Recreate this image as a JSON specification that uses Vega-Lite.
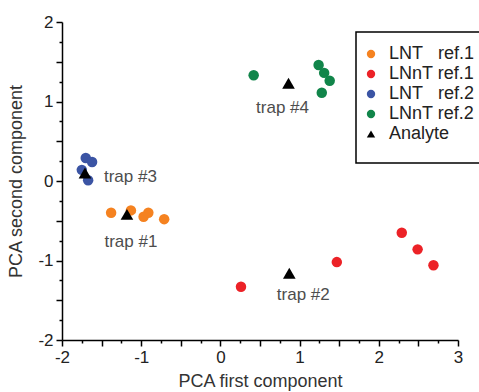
{
  "$schema": "https://vega.github.io/schema/vega-lite/v6.json",
  "width": 396,
  "height": 318,
  "autosize": {"type": "none"},
  "padding": {"left": 62, "top": 22, "right": 21, "bottom": 52},
  "background": "white",
  "config": {
    "view": {"stroke": null},
    "font": "Liberation Sans",
    "legend": {"strokeWidth": 1.5},
    "axis": {
      "domainColor": "black",
      "domainWidth": 1.5,
      "tickColor": "black",
      "tickWidth": 1.5,
      "grid": false,
      "labelFont": "Liberation Sans",
      "labelFontSize": 17,
      "labelColor": "#222",
      "titleFont": "Liberation Sans",
      "titleFontSize": 18,
      "titleFontWeight": "normal",
      "titleColor": "#333",
      "labelFlush": false,
      "labelOverlap": false
    }
  },
  "data": {
    "values": [
      {"series": "LNT ref.1", "x": -1.38, "y": -0.40},
      {"series": "LNT ref.1", "x": -1.13, "y": -0.37},
      {"series": "LNT ref.1", "x": -0.97, "y": -0.45},
      {"series": "LNT ref.1", "x": -0.91, "y": -0.40},
      {"series": "LNT ref.1", "x": -0.71, "y": -0.48},
      {"series": "LNnT ref.1", "x": 0.26, "y": -1.33},
      {"series": "LNnT ref.1", "x": 1.47, "y": -1.02},
      {"series": "LNnT ref.1", "x": 2.29, "y": -0.65},
      {"series": "LNnT ref.1", "x": 2.49, "y": -0.86},
      {"series": "LNnT ref.1", "x": 2.69, "y": -1.06},
      {"series": "LNT ref.2", "x": -1.70, "y": 0.29},
      {"series": "LNT ref.2", "x": -1.62, "y": 0.24},
      {"series": "LNT ref.2", "x": -1.75, "y": 0.14},
      {"series": "LNT ref.2", "x": -1.67, "y": 0.01},
      {"series": "LNnT ref.2", "x": 0.42, "y": 1.33},
      {"series": "LNnT ref.2", "x": 1.24, "y": 1.46},
      {"series": "LNnT ref.2", "x": 1.31, "y": 1.36},
      {"series": "LNnT ref.2", "x": 1.38, "y": 1.26},
      {"series": "LNnT ref.2", "x": 1.28, "y": 1.11},
      {"series": "Analyte", "x": -1.18, "y": -0.42, "label": "trap #1"},
      {"series": "Analyte", "x": 0.87, "y": -1.16, "label": "trap #2"},
      {"series": "Analyte", "x": -1.71, "y": 0.10, "label": "trap #3"},
      {"series": "Analyte", "x": 0.86, "y": 1.23, "label": "trap #4"}
    ]
  },
  "encoding": {
    "x": {
      "field": "x", "type": "quantitative",
      "scale": {"domain": [-2, 3], "nice": false, "zero": false},
      "axis": {
        "title": "PCA first component",
        "values": [-2,-1.75,-1.5,-1.25,-1,-0.75,-0.5,-0.25,0,0.25,0.5,0.75,1,1.25,1.5,1.75,2,2.25,2.5,2.75,3],
        "labelExpr": "datum.value % 1 === 0 ? toString(datum.value) : ''",
        "tickSize": {"condition": {"test": "datum.value % 0.5 === 0", "value": 6}, "value": 3},
        "labelPadding": 3,
        "titlePadding": 7
      }
    },
    "y": {
      "field": "y", "type": "quantitative",
      "scale": {"domain": [-2, 2], "nice": false, "zero": false},
      "axis": {
        "title": "PCA second component",
        "values": [-2,-1.75,-1.5,-1.25,-1,-0.75,-0.5,-0.25,0,0.25,0.5,0.75,1,1.25,1.5,1.75,2],
        "labelExpr": "datum.value % 1 === 0 ? toString(datum.value) : ''",
        "tickSize": {"condition": {"test": "datum.value % 0.5 === 0", "value": 6}, "value": 3},
        "labelPadding": 3,
        "titlePadding": 12
      }
    }
  },
  "layer": [
    {
      "transform": [{"filter": "datum.series !== 'Analyte'"}],
      "mark": {"type": "point", "filled": true, "opacity": 1, "size": 110, "strokeWidth": 0},
      "encoding": {
        "color": {
          "field": "series", "type": "nominal",
          "scale": {
            "domain": ["LNT ref.1", "LNnT ref.1", "LNT ref.2", "LNnT ref.2", "Analyte"],
            "range": ["#F58220", "#EC2227", "#3B54A4", "#11854A", "#000000"]
          },
          "legend": {
            "title": "\u00a0",
            "titleOrient": "bottom",
            "titleFontSize": 4,
            "titlePadding": 3,
            "orient": "none",
            "legendX": 294,
            "legendY": 10,
            "strokeColor": "black",
            "fillColor": "white",
            "padding": 13,
            "rowPadding": 2,
            "symbolSize": 70,
            "symbolOffset": -7,
            "symbolStrokeWidth": 0,
            "labelFont": "Liberation Sans",
            "labelFontSize": 18,
            "labelColor": "#222",
            "labelOffset": 9,
            "labelLimit": 200,
            "labelExpr": "replace(datum.label, 'LNT ', 'LNT\u00a0\u00a0\u00a0') + '\u00a0\u00a0\u00a0'"
          }
        },
        "shape": {
          "field": "series", "type": "nominal",
          "scale": {
            "domain": ["LNT ref.1", "LNnT ref.1", "LNT ref.2", "LNnT ref.2", "Analyte"],
            "range": ["circle", "circle", "circle", "circle", "triangle-up"]
          }
        }
      }
    },
    {
      "transform": [{"filter": "datum.series === 'Analyte'"}],
      "mark": {"type": "point", "filled": true, "opacity": 1, "size": 160, "strokeWidth": 0},
      "encoding": {
        "color": {"field": "series", "type": "nominal"},
        "shape": {"field": "series", "type": "nominal"}
      }
    },
    {
      "transform": [{"filter": "datum.label === 'trap #1'"}],
      "mark": {"type": "text", "fontSize": 17, "color": "#4d4d4d", "align": "center", "baseline": "alphabetic", "dx": 4, "dy": 33},
      "encoding": {"text": {"field": "label"}}
    },
    {
      "transform": [{"filter": "datum.label === 'trap #2'"}],
      "mark": {"type": "text", "fontSize": 17, "color": "#4d4d4d", "align": "center", "baseline": "alphabetic", "dx": 14, "dy": 27},
      "encoding": {"text": {"field": "label"}}
    },
    {
      "transform": [{"filter": "datum.label === 'trap #3'"}],
      "mark": {"type": "text", "fontSize": 17, "color": "#4d4d4d", "align": "left", "baseline": "alphabetic", "dx": 19, "dy": 9},
      "encoding": {"text": {"field": "label"}}
    },
    {
      "transform": [{"filter": "datum.label === 'trap #4'"}],
      "mark": {"type": "text", "fontSize": 17, "color": "#4d4d4d", "align": "center", "baseline": "alphabetic", "dx": -6, "dy": 30},
      "encoding": {"text": {"field": "label"}}
    }
  ]
}
